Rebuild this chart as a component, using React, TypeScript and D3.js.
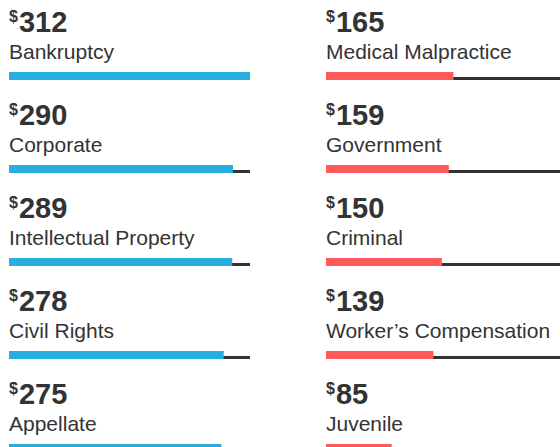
import React, { useEffect, useRef } from 'react';
import * as d3 from 'd3';

// left column (blue)
const leftCategories = ['Bankruptcy', 'Corporate', 'Intellectual Property', 'Civil Rights', 'Appellate'];
const leftValues = [312, 290, 289, 278, 275];

// right column (red)
const rightCategories = ['Medical Malpractice', 'Government', 'Criminal', 'Worker\u2019s Compensation', 'Juvenile'];
const rightValues = [165, 159, 150, 139, 85];

const W = 560;
const H = 447;
const FONT = '"Liberation Sans", Arial, Helvetica, sans-serif';

export default function App() {
  const ref = useRef<SVGSVGElement>(null);

  useEffect(() => {
    const svg = d3.select(ref.current);
    svg.selectAll('*').remove();

    const maxVal = d3.max([...leftValues, ...rightValues]) as number;
    const x = d3.scaleLinear().domain([0, maxVal]).range([0, 241]);
    const colX = d3.scaleOrdinal<string, number>().domain(['left', 'right']).range([9, 326]);
    const rowY = d3.scaleLinear().domain([0, 1]).range([0, 93]);

    const columns = [
      { key: 'left', cats: leftCategories, vals: leftValues, color: '#27b0de' },
      { key: 'right', cats: rightCategories, vals: rightValues, color: '#fe5a5a' },
    ];

    columns.forEach((col) => {
      const g = svg.append('g').attr('transform', `translate(${colX(col.key)},0)`);
      const rows = g
        .selectAll('g.row')
        .data(col.vals.map((v, i) => ({ v, name: col.cats[i], i })))
        .enter()
        .append('g')
        .attr('class', 'row')
        .attr('transform', (d) => `translate(0,${rowY(d.i)})`);

      // value with superscript dollar sign
      const val = rows
        .append('text')
        .attr('x', 0)
        .attr('y', 32)
        .attr('fill', '#333')
        .style('font-family', FONT)
        .style('font-weight', 700);
      val.append('tspan').attr('font-size', 16).attr('dy', -10).text('$');
      val.append('tspan').attr('font-size', 29).attr('dx', 1).attr('dy', 10).text((d) => d.v);

      rows
        .append('text')
        .attr('x', 0)
        .attr('y', 59)
        .attr('fill', '#333')
        .style('font-family', FONT)
        .style('font-size', '21px')
        .text((d) => d.name);

      // track
      rows
        .append('rect')
        .attr('x', 0)
        .attr('y', 77)
        .attr('width', x(maxVal))
        .attr('height', 3)
        .attr('fill', '#333');

      rows
        .append('rect')
        .attr('x', 0)
        .attr('y', 72)
        .attr('width', (d) => x(d.v))
        .attr('height', 8)
        .attr('fill', col.color);
    });
  }, []);

  return (
    <svg
      ref={ref}
      width={W}
      height={H}
      style={{ position: 'absolute', left: 0, top: 0, display: 'block', background: '#fff' }}
    />
  );
}
